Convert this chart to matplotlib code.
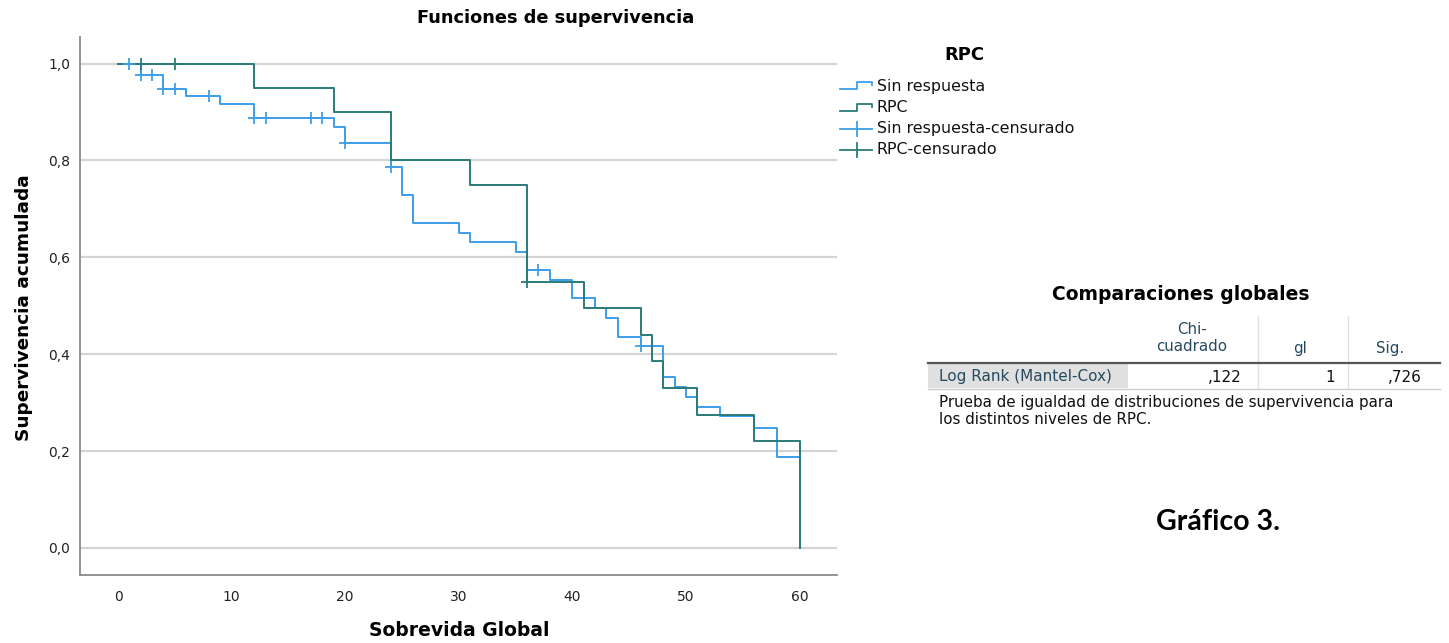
############################################
# Kaplan-Meier curves, RPC vs sin respuesta #
############################################

import numpy as np
import matplotlib
matplotlib.use('Agg')
import matplotlib.pyplot as plt
from matplotlib.lines import Line2D
from matplotlib.patches import Rectangle

# step curves (time, cumulative survival after the drop)
t_sin = [0, 2, 4, 6, 9, 12, 19, 20, 24, 25, 26, 30, 31, 35, 36, 38, 40, 42, 43, 44,
         46, 48, 49, 50, 51, 53, 56, 58, 60]
s_sin = [1.0, 0.976, 0.948, 0.934, 0.917, 0.888, 0.870, 0.837, 0.786, 0.728, 0.671,
         0.650, 0.632, 0.612, 0.574, 0.553, 0.515, 0.495, 0.475, 0.435, 0.416, 0.353,
         0.332, 0.312, 0.291, 0.272, 0.248, 0.187, 0.0]
cens_sin = [1, 2, 3, 4, 5, 8, 12, 13, 17, 18, 20, 24, 37, 46]

t_rpc = [0, 12, 19, 24, 31, 36, 41, 46, 47, 48, 51, 56, 60]
s_rpc = [1.0, 0.95, 0.90, 0.80, 0.75, 0.55, 0.495, 0.44, 0.385, 0.33, 0.275, 0.22, 0.0]
cens_rpc = [2, 5, 36]

yticks = [0.0, 0.2, 0.4, 0.6, 0.8, 1.0]
xticks = [0, 10, 20, 30, 40, 50, 60]

legend_labels = ['Sin respuesta', 'RPC', 'Sin respuesta-censurado', 'RPC-censurado']
table_cols = ['Chi-\ncuadrado', 'gl', 'Sig.']
table_row = ['Log Rank (Mantel-Cox)', ',122', '1', ',726']
table_note = ['Prueba de igualdad de distribuciones de supervivencia para',
              'los distintos niveles de RPC.']

blue = '#3d9eea'
teal = '#2a7b78'
font = 'DejaVu Sans'

def surv_at(times, surv, tc):
    ### value of the step function at the censoring times
    idx = np.searchsorted(times, tc, side='right') - 1
    return np.array(surv)[idx]

W, H = 1449, 643
fig = plt.figure(figsize=(W/100, H/100), dpi=100)

# main axes in pixel units of the picture
x0, x1, y0, y1 = 80, 837, 37, 575
ax = fig.add_axes([x0/W, 1-y1/H, (x1-x0)/W, (y1-y0)/H])
ax.set_xlim(-3.35, 63.3)
ax.set_ylim(-0.056, 1.055)
for y in yticks:
    ax.axhline(y, color='#d4d4d4', lw=1.6, zorder=0)

ax.step(t_sin, s_sin, where='post', color=blue, lw=1.4, zorder=3)
ax.step(t_rpc, s_rpc, where='post', color=teal, lw=1.4, zorder=4)
ax.plot(cens_sin, surv_at(t_sin, s_sin, cens_sin), ls='none', marker='+',
        ms=9, mew=1.3, color=blue, zorder=5)
ax.plot(cens_rpc, surv_at(t_rpc, s_rpc, cens_rpc), ls='none', marker='+',
        ms=9, mew=1.3, color=teal, zorder=6)

ax.set_yticks(yticks)
ax.set_yticklabels(['{:.1f}'.format(v).replace('.', ',') for v in yticks],
                   fontsize=10, family=font)
ax.set_xticks(xticks)
ax.set_xticklabels([str(v) for v in xticks], fontsize=10, family=font)
ax.tick_params(length=0, pad=7, colors='#222222')
ax.tick_params(axis='x', pad=11)
for side in ['top', 'right']:
    ax.spines[side].set_visible(False)
for side in ['left', 'bottom']:
    ax.spines[side].set_color('#8a8a8a')
    ax.spines[side].set_linewidth(1.3)

# overlay in picture pixels for titles, legend and table
ov = fig.add_axes([0, 0, 1, 1], zorder=10)
ov.set_xlim(0, W)
ov.set_ylim(H, 0)
ov.axis('off')

ov.text(556, 18, 'Funciones de supervivencia', ha='center', va='center',
        fontsize=12.8, weight='bold', family=font)
ov.text(459, 630, 'Sobrevida Global', ha='center', va='center',
        fontsize=13.5, weight='bold', family=font)
ov.text(24, 308, 'Supervivencia acumulada', ha='center', va='center',
        rotation=90, fontsize=13.3, weight='bold', family=font)

# legend
ov.text(964, 55, 'RPC', ha='center', va='center', fontsize=13, weight='bold', family=font)
rows = [86, 108, 129, 150]
for i, (lab, col) in enumerate(zip(legend_labels, [blue, teal, blue, teal])):
    yc = rows[i]
    if i < 2:
        ov.add_line(Line2D([840, 857, 857, 872, 872], [yc+3, yc+3, yc-4, yc-4, yc-1],
                           color=col, lw=1.3))
    else:
        ov.add_line(Line2D([840, 872], [yc, yc], color=col, lw=1.3))
        ov.add_line(Line2D([857, 857], [yc-7, yc+7], color=col, lw=1.3))
    ov.text(877, yc, lab, ha='left', va='center', fontsize=11.4, family=font, color='#111111')

# table of global comparisons
ov.text(1181, 295, 'Comparaciones globales', ha='center', va='center',
        fontsize=13.5, weight='bold', family=font)
ov.text(1192, 338, table_cols[0], ha='center', va='center', fontsize=10.8,
        family=font, color='#264a60', linespacing=1.15)
ov.text(1300, 349, table_cols[1], ha='center', va='center', fontsize=10.8,
        family=font, color='#264a60')
ov.text(1390, 349, table_cols[2], ha='center', va='center', fontsize=10.8,
        family=font, color='#264a60')
for xv in [1258, 1348]:
    ov.add_line(Line2D([xv, xv], [316, 389], color='#e2e2e2', lw=1))
ov.add_patch(Rectangle((928, 364), 1128-928, 24, facecolor='#e0e0e0', edgecolor='none'))
ov.add_line(Line2D([928, 1440], [363, 363], color='#555555', lw=1.6))
ov.add_line(Line2D([928, 1440], [389, 389], color='#cccccc', lw=1))
ov.text(939, 377, table_row[0], ha='left', va='center', fontsize=11,
        family=font, color='#264a60')
for xr, val in zip([1242, 1335, 1422], table_row[1:]):
    ov.text(xr, 377, val, ha='right', va='center', fontsize=11, family=font, color='#111111')
for yv, line in zip([403, 419], table_note):
    ov.text(939, yv, line, ha='left', va='center', fontsize=10.9, family=font, color='#111111')

ov.text(1218, 522, 'Gráfico 3.', ha='center', va='center', fontsize=20.5,
        weight='bold', family='Lato')

fig.savefig('out.png', dpi=100)
